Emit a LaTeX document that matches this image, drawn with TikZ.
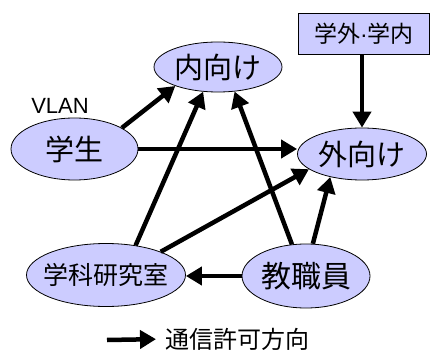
\documentclass[tikz,border=0pt]{standalone}
\usepackage{fontspec}
\setmainfont{Liberation Sans}
\newfontfamily\jp{Noto Sans CJK JP}
\usetikzlibrary{arrows.meta,shapes.geometric}
\definecolor{lav}{HTML}{CCCCFF}
\begin{document}
\begin{tikzpicture}[x=1pt,y=-1pt,
  ell/.style={ellipse, draw=black, line width=0.8pt, fill=lav, inner sep=0pt},
  arr/.style={line width=4.5pt, -{Triangle[length=16pt,width=18pt]}},
  big/.style={font={\jp\fontsize{29}{31}\selectfont}}]
\useasboundingbox (0,0) rectangle (430,352);
% nodes
\node[ell, minimum width=128pt, minimum height=50pt,
      label={[big]center:内向け}] (nai) at (218,67) {};
\node[ell, minimum width=127pt, minimum height=62pt,
      label={[big]center:学生}] (gak) at (74.5,149) {};
\node[ell, minimum width=129pt, minimum height=52pt,
      label={[big]center:外向け}] (soto) at (362,154) {};
\node[ell, minimum width=159pt, minimum height=63pt,
      label={[font={\jp\fontsize{25}{27}\selectfont}]center:学科研究室}] (gk) at (106,275) {};
\node[ell, minimum width=128pt, minimum height=64pt,
      label={[font={\jp\fontsize{30}{32}\selectfont}]center:教職員}] (kyo) at (306,276) {};
\node[draw=black, line width=0.8pt, fill=lav, minimum width=131pt, minimum height=41pt,
      inner sep=0pt, font={\jp\fontsize{23}{25}\selectfont}] (box) at (364,33.5) {学外{\fontspec{Liberation Sans}·}学内};
\node[font=\fontsize{22}{24}\selectfont] (vlan) at (60,106) {VLAN};
% arrows
\draw[arr] (gak.24) -- (nai.204);
\draw[arr] (gak.east) -- (gak.east -| soto.west);
\draw[arr] (gk.45) -- (nai.239);
\draw[arr] (kyo.114) -- (nai.304);
\draw[arr] (gk.23) -- (soto.196);
\draw[arr] (kyo.78) -- (soto.216);
\draw[arr] (kyo.west) -- (kyo.west -| gk.east);
\draw[arr] (box.south -| soto.north) -- (soto.north);
% legend
\coordinate (lg) at (107,340);
\node[anchor=west, inner sep=0pt, font={\jp\fontsize{24}{26}\selectfont}] (lt) at (165,339) {通信許可方向};
\draw[arr, shorten >=9pt] (lg) -- (lt.west);
\end{tikzpicture}
\end{document}
